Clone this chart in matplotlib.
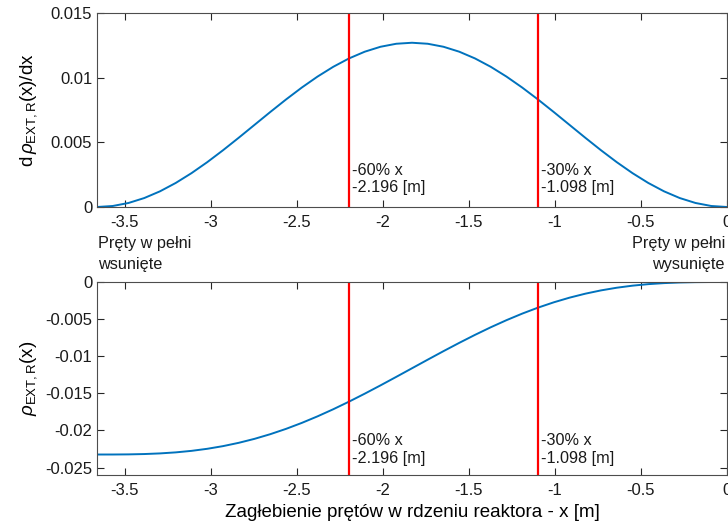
import numpy as np
import matplotlib
matplotlib.use("Agg")
import matplotlib.pyplot as plt
from matplotlib.ticker import FuncFormatter

plt.rcParams['font.family'] = ['Liberation Sans', 'DejaVu Sans']
plt.rcParams['axes.unicode_minus'] = False
plt.rcParams['mathtext.fontset'] = 'custom'
plt.rcParams['mathtext.rm'] = 'Liberation Sans'
plt.rcParams['mathtext.it'] = 'Liberation Sans:italic'

# rod depth positions [m]
x = np.linspace(-3.66, 0.0, 41)

# d rho / dx (top panel)
drho = [0.0, 0.0000782, 0.0003108, 0.0006921, 0.0012127, 0.0018599, 0.0026176,
        0.0034672, 0.0043877, 0.0053566, 0.00635, 0.0073434, 0.0083122,
        0.0092328, 0.0100824, 0.0108401, 0.0114873, 0.0120079, 0.0123892,
        0.0126218, 0.0127,
        0.0126218, 0.0123892, 0.0120079, 0.0114873, 0.0108401, 0.0100824,
        0.0092328, 0.0083122, 0.0073434, 0.00635, 0.0053566, 0.0043877,
        0.0034672, 0.0026176, 0.0018599, 0.0012127, 0.0006921, 0.0003108,
        0.0000782, 0.0]

# rho(x) (bottom panel)
rho = [-0.023241, -0.023239, -0.023222, -0.023177, -0.023091, -0.022952,
       -0.022748, -0.022470, -0.022111, -0.021664, -0.021130, -0.020503,
       -0.019787, -0.018984, -0.018100, -0.017142, -0.016119, -0.015043,
       -0.013926, -0.012781, -0.011621, -0.010461, -0.009315, -0.008198,
       -0.007122, -0.006099, -0.005141, -0.004257, -0.003454, -0.002738,
       -0.002111, -0.001576, -0.001130, -0.000771, -0.000493, -0.000289,
       -0.000150, -0.000064, -0.000019, -0.000002, 0.0]

# marker lines
vlines = [-2.196, -1.098]
vlabels = ["-60% x\n-2.196 [m]", "-30% x\n-1.098 [m]"]

xticks = [-3.5, -3, -2.5, -2, -1.5, -1, -0.5, 0]
yticks_top = [0, 0.005, 0.01, 0.015]
yticks_bot = [-0.025, -0.02, -0.015, -0.01, -0.005, 0]

W, H = 728, 532
fig = plt.figure(figsize=(W / 100, H / 100), dpi=100)

def px_axes(l, t, r, b):
    return fig.add_axes([l / W, 1 - b / H, (r - l) / W, (b - t) / H])

ax1 = px_axes(97, 13, 727, 207)
ax2 = px_axes(97, 282, 727, 475)

blue = '#0072BD'
axcol = '#262626'
txtcol = '#1a1a1a'
fmt = FuncFormatter(lambda v, p: ('%g' % v))

for ax in (ax1, ax2):
    ax.set_xlim(-3.66, 0)
    ax.set_xticks(xticks)
    ax.xaxis.set_major_formatter(fmt)
    ax.yaxis.set_major_formatter(fmt)
    ax.tick_params(direction='in', length=5, width=0.8, colors=axcol,
                   labelsize=12, top=True, right=True, labelcolor=txtcol)
    ax.tick_params(axis='x', pad=6)
    for s in ax.spines.values():
        s.set_color('#4d4d4d')
        s.set_linewidth(0.8)

ax1.plot(x, drho, color=blue, lw=1.4)
ax1.set_ylim(0, 0.015)
ax1.set_yticks(yticks_top)
ax1.set_ylabel(r'd$\,\rho_{\mathrm{EXT,R}}$(x)/dx', fontsize=13.5)
ax1.yaxis.set_label_coords(-0.092, 0.5)

ax2.plot(x, rho, color=blue, lw=1.4)
ax2.set_ylim(-0.026, 0)
ax2.set_yticks(yticks_bot)
ax2.set_ylabel(r'$\rho_{\mathrm{EXT,R}}$(x)', fontsize=13.5)
ax2.yaxis.set_label_coords(-0.092, 0.5)
ax2.set_xlabel('Zagłebienie prętów w rdzeniu reaktora - x [m]', fontsize=13.5, labelpad=4)

for ax, ytxt in ((ax1, 0.00217), (ax2, -0.02258)):
    for xv, lab in zip(vlines, vlabels):
        ax.axvline(xv, color='#ff0000', lw=1.6)
        ax.annotate(lab, xy=(xv, ytxt), xytext=(2.5, 0), textcoords='offset points',
                    ha='left', va='center', fontsize=11.7, linespacing=1.2,
                    color=txtcol)

# end labels under the top panel
fs_end = 11.7
fig.text(98 / W, 1 - 243 / H, 'Pręty w pełni', ha='left', va='center', fontsize=fs_end, color=txtcol)
fig.text(98 / W, 1 - 265 / H, 'wsunięte', ha='left', va='center', fontsize=fs_end, color=txtcol)
fig.text(725 / W, 1 - 243 / H, 'Pręty w pełni', ha='right', va='center', fontsize=fs_end, color=txtcol)
fig.text(725 / W, 1 - 265 / H, 'wysunięte', ha='right', va='center', fontsize=fs_end, color=txtcol)

fig.savefig('out.png', dpi=100)
